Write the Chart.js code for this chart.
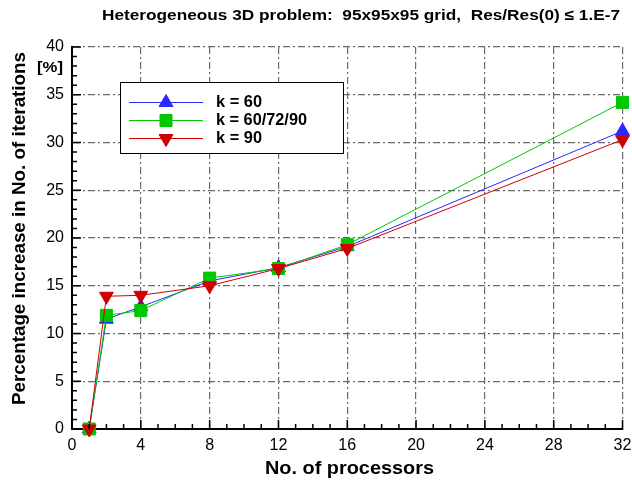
<!DOCTYPE html>
<html>
<head>
<meta charset="utf-8">
<script src="https://cdn.jsdelivr.net/npm/chart.js@4/dist/chart.umd.min.js"></script>
<style>
  body { margin:0; background:#fff; }
  canvas { display:block; }
</style>
</head>
<body>
<canvas id="chart" width="632" height="484"></canvas>
<script>
// ========================
// DATA
// ========================
const PROCESSORS = [1, 2, 4, 8, 12, 16, 32];
const K60 = [0, 11.5, 12.8, 15.5, 16.9, 19.1, 31.2];
const K_MIXED = [0, 11.9, 12.4, 15.8, 16.8, 19.3, 34.2];
const K90 = [0, 13.9, 14.0, 15.0, 16.8, 18.9, 30.3];
const SERIES_LABELS = ['k = 60', 'k = 60/72/90', 'k = 90'];

const TITLE = 'Heterogeneous 3D problem:  95x95x95 grid,  Res/Res(0) \u2264 1.E-7';
const X_TITLE = 'No. of processors';
const Y_TITLE = 'Percentage increase in No. of iterations';
const Y_UNIT = '[%]';

const BLUE = '#2828ff';
const GREEN = '#00c800';
const RED = '#d00000';
const FONT = '"Liberation Sans", Arial, Helvetica, sans-serif';

function pts(vals) { return vals.map((v, i) => ({ x: PROCESSORS[i], y: v })); }

function drawMarker(ctx, style, rot, r, x, y, color) {
  if (Chart.helpers && Chart.helpers.drawPoint) {
    ctx.fillStyle = color; ctx.strokeStyle = color; ctx.lineWidth = 1;
    Chart.helpers.drawPoint(ctx, { pointStyle: style, radius: r, rotation: rot, borderWidth: 1 }, x, y);
  }
}

// text squeezed/stretched to a given width (the original font is a bit wider)
function fitText(ctx, txt, cx, cy, w) {
  const m = ctx.measureText(txt).width;
  ctx.save();
  ctx.translate(cx, cy);
  ctx.scale(w / m, 1);
  ctx.textAlign = 'center';
  ctx.textBaseline = 'middle';
  ctx.fillText(txt, 0, 0);
  ctx.restore();
}

// ========================
// PLUGIN: ticks, texts, legend
// ========================
const decor = {
  id: 'decor',
  afterDraw(chart) {
    const ctx = chart.ctx;
    const xs = chart.scales.x, ys = chart.scales.y;
    const a = chart.chartArea;
    ctx.save();
    // inward ticks
    ctx.strokeStyle = '#000';
    ctx.lineWidth = 1.5;
    ctx.beginPath();
    for (let v = 0; v <= 32; v++) {
      const px = xs.getPixelForValue(v);
      const len = v % 4 === 0 ? 9 : 5;
      ctx.moveTo(px, a.bottom); ctx.lineTo(px, a.bottom - len);
    }
    for (let v = 0; v <= 40; v++) {
      const py = ys.getPixelForValue(v);
      const len = v % 5 === 0 ? 9 : 5;
      ctx.moveTo(a.left, py); ctx.lineTo(a.left + len, py);
    }
    ctx.stroke();

    // texts
    ctx.fillStyle = '#000';
    ctx.font = 'bold 15px ' + FONT;
    fitText(ctx, TITLE, 361, 16, 518);
    ctx.font = 'bold 19px ' + FONT;
    fitText(ctx, X_TITLE, 349.5, 469, 169);
    ctx.font = 'bold 15px ' + FONT;
    fitText(ctx, Y_UNIT, 50, 68, 26);
    ctx.save();
    ctx.translate(20, 228.5);
    ctx.rotate(-Math.PI / 2);
    ctx.font = 'bold 18px ' + FONT;
    fitText(ctx, Y_TITLE, 0, 0, 353);
    ctx.restore();

    // legend
    ctx.fillStyle = '#fff';
    ctx.fillRect(120, 82, 223, 71);
    ctx.strokeStyle = '#000';
    ctx.lineWidth = 1;
    ctx.strokeRect(120.5, 82.5, 223, 71);
    const rows = [
      { y: 102.5, color: BLUE, style: 'triangle', rot: 0, r: 8, w: 46 },
      { y: 120.5, color: GREEN, style: 'rect', rot: 0, r: 8.5, w: 91 },
      { y: 138.5, color: RED, style: 'triangle', rot: 180, r: 8, w: 46 }
    ];
    rows.forEach((row, i) => {
      ctx.strokeStyle = row.color;
      ctx.lineWidth = 1;
      ctx.beginPath(); ctx.moveTo(129, row.y); ctx.lineTo(203, row.y); ctx.stroke();
      drawMarker(ctx, row.style, row.rot, row.r, 166, row.y, row.color);
      ctx.fillStyle = '#000';
      ctx.font = 'bold 16px ' + FONT;
      fitText(ctx, SERIES_LABELS[i], 216 + row.w / 2, row.y, row.w);
    });
    ctx.restore();
  }
};

const gridOpts = {
  color: '#6a6a6a',
  lineWidth: 1.2,
  drawTicks: false
};
const borderOpts = { display: true, color: '#000', width: 2, dash: [7, 3, 2, 3] };

new Chart(document.getElementById('chart'), {
  type: 'line',
  data: {
    datasets: [
      { label: SERIES_LABELS[0], data: pts(K60), borderColor: BLUE, backgroundColor: BLUE,
        pointStyle: 'triangle', pointRadius: 8, pointRotation: 0, order: 3 },
      { label: SERIES_LABELS[1], data: pts(K_MIXED), borderColor: GREEN, backgroundColor: GREEN,
        pointStyle: 'rect', pointRadius: 8.5, order: 2 },
      { label: SERIES_LABELS[2], data: pts(K90), borderColor: RED, backgroundColor: RED,
        pointStyle: 'triangle', pointRadius: 8, pointRotation: 180, order: 1 }
    ].map(d => Object.assign(d, { borderWidth: 1, tension: 0, clip: false, pointBorderWidth: 1, pointBorderColor: d.borderColor }))
  },
  options: {
    responsive: false,
    animation: false,
    events: [],
    layout: { padding: { top: 47, right: 6, left: 0, bottom: 0 } },
    plugins: { legend: { display: false }, title: { display: false }, tooltip: { enabled: false } },
    scales: {
      x: {
        type: 'linear', min: 0, max: 32,
        ticks: { stepSize: 4, padding: 7, color: '#000', font: { family: FONT, size: 16 }, maxRotation: 0 },
        grid: gridOpts,
        border: borderOpts,
        afterFit(s) { s.height = 55; s.paddingLeft = 0; s.paddingRight = 0; }
      },
      y: {
        type: 'linear', min: 0, max: 40,
        ticks: { stepSize: 5, padding: 8, color: '#000', font: { family: FONT, size: 16 } },
        grid: gridOpts,
        border: borderOpts,
        afterFit(s) { s.width = 72; s.paddingTop = 0; s.paddingBottom = 0; }
      }
    }
  },
  plugins: [decor]
});
</script>
</body>
</html>
